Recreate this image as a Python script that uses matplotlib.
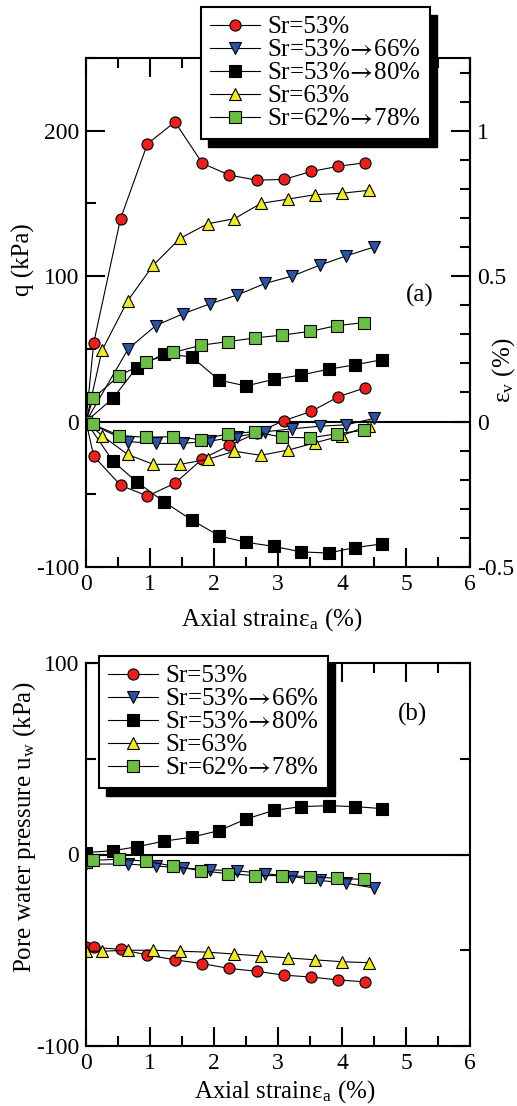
import numpy as np
import matplotlib.pyplot as plt
from matplotlib.patches import Rectangle
from matplotlib.transforms import IdentityTransform
from matplotlib.ticker import MultipleLocator

plt.rcParams['font.family'] = ['Liberation Serif', 'DejaVu Serif']
plt.rcParams['mathtext.fontset'] = 'stix'
plt.rcParams['axes.unicode_minus'] = False

# Datos: deformacion axial (%)
ea_53 = [0, 0.12, 0.54, 0.96, 1.39, 1.82, 2.24, 2.67, 3.09, 3.52, 3.94, 4.36]
ea_66 = [0, 0.66, 1.09, 1.51, 1.94, 2.36, 2.80, 3.22, 3.65, 4.07, 4.50]
ea_80 = [0, 0.42, 0.79, 1.22, 1.65, 2.08, 2.50, 2.93, 3.36, 3.79, 4.20, 4.62]
ea_63 = [0, 0.25, 0.65, 1.05, 1.47, 1.90, 2.32, 2.73, 3.16, 3.58, 4.00, 4.42]
ea_78 = [0, 0.11, 0.52, 0.94, 1.36, 1.80, 2.22, 2.64, 3.07, 3.50, 3.92, 4.34]

# Esfuerzo desviador q (kPa)
q_53 = [0, 54, 139.5, 191, 206, 177.5, 169.5, 166, 166.5, 172, 175.5, 178]
q_66 = [0, 50, 66, 74, 81, 87, 95, 100, 107.5, 114, 120]
q_80 = [0, 16, 37, 46.5, 44.5, 28.5, 24.5, 29, 32, 36, 39, 42.5]
q_63 = [0, 49, 83, 107.5, 126, 136, 139.5, 150, 153, 156, 157, 159]
q_78 = [0, 16, 31.5, 41, 47.5, 52.5, 55, 57.5, 59.5, 62, 66, 68]

# Deformacion volumetrica (%)
ev_53 = [0, -0.119, -0.219, -0.256, -0.212, -0.128, -0.082, -0.039, 0.003, 0.035, 0.085, 0.116]
ev_66 = [0, -0.069, -0.075, -0.075, -0.067, -0.052, -0.035, -0.025, -0.016, -0.011, 0.011]
ev_80 = [0, -0.136, -0.207, -0.276, -0.338, -0.393, -0.415, -0.429, -0.448, -0.452, -0.433, -0.421]
ev_63 = [0, -0.048, -0.113, -0.147, -0.147, -0.130, -0.102, -0.116, -0.098, -0.073, -0.048, -0.014]
ev_78 = [0, -0.010, -0.048, -0.054, -0.052, -0.062, -0.042, -0.035, -0.054, -0.056, -0.042, -0.030]

# Presion de poro uw (kPa)
uw_53 = [-48.5, -48.5, -49.5, -52.5, -55, -57, -59.5, -61, -63, -64, -65.5, -66.5]
uw_66 = [-5, -5, -6, -7, -8, -8.5, -10, -11.5, -13.5, -15, -17.5]
uw_80 = [1, 2, 4, 7, 9, 12.5, 18.5, 23, 25, 25.5, 25, 24]
uw_63 = [-50.5, -50.5, -50, -50, -50.5, -51, -52, -53, -54, -55, -56, -56.5]
uw_78 = [-4, -3, -2.5, -3.5, -6, -8.5, -10, -11, -11, -11.5, -12.5, -13]

arr = '$\\!\\rightarrow\\!$'
labels = ['Sr=53%', 'Sr=53%' + arr + '66%', 'Sr=53%' + arr + '80%', 'Sr=63%',
          'Sr=62%' + arr + '78%']
markers = ['o', 'v', 's', '^', 's']
colors = ['#e8201e', '#2b53a6', '#000000', '#f0ea2a', '#6cbd45']

W, H = 517, 1106
fig = plt.figure(figsize=(W/100, H/100), dpi=100)

def px_axes(x0, y0, x1, y1):
    return fig.add_axes([x0/W, 1-y1/H, (x1-x0)/W, (y1-y0)/H])

def style(ax):
    ax.tick_params(which='both', direction='in', top=True, width=1.5, labelsize=17)
    ax.tick_params(which='major', length=14)
    ax.tick_params(which='minor', length=7)
    ax.tick_params(axis='x', pad=5)
    ax.tick_params(axis='y', pad=5)
    for s in ax.spines.values():
        s.set_linewidth(1.5)
    ax.xaxis.set_major_locator(MultipleLocator(1))
    ax.xaxis.set_minor_locator(MultipleLocator(0.5))
    ax.set_xlim(0, 6)

kw = dict(lw=0.8, ms=8, mec='k', mew=0.8)
legkw = dict(loc='upper left', bbox_transform=fig.transFigure, borderaxespad=0, fontsize=18,
             handlelength=2.0, handletextpad=0.3, labelspacing=0.02, borderpad=0.35,
             fancybox=False, framealpha=1, edgecolor='k')

# ---------- (a) ----------
ax = px_axes(86, 58, 470, 567)
style(ax)
ax.set_ylim(-100, 250)
ax.set_yticks([-100, 0, 100, 200])
ax.yaxis.set_minor_locator(MultipleLocator(50))
ax.tick_params(axis='y', which='both', right=False)
ax.axhline(0, color='k', lw=1.5, zorder=1.5)

ea_list = [ea_53, ea_66, ea_80, ea_63, ea_78]
q_list = [q_53, q_66, q_80, q_63, q_78]
ev_list = [ev_53, ev_66, ev_80, ev_63, ev_78]
for xs, qs, evs, lab, m, c in zip(ea_list, q_list, ev_list, labels, markers, colors):
    ax.plot(xs, qs, '-', color='k', marker=m, mfc=c, label=lab, **kw)
    ax.plot(xs, np.array(evs)*200, '-', color='k', marker=m, mfc=c, **kw)

ax2 = ax.twinx()
ax2.set_ylim(-0.5, 1.25)
ax2.set_yticks([-0.5, 0, 0.5, 1])
ax2.set_yticklabels(['-0.5', '0', '0.5', '1'])
ax2.yaxis.set_minor_locator(MultipleLocator(0.1))
ax2.tick_params(which='both', direction='in', width=1.5, labelsize=17, pad=5)
ax2.tick_params(which='major', length=14)
ax2.tick_params(which='minor', length=7)
for k in ['top', 'bottom', 'left']:
    ax2.spines[k].set_visible(False)
ax2.spines['right'].set_linewidth(1.5)

ax.set_xlabel('Axial strain\u03b5$_\\mathregular{a}$ (%)', fontsize=18)
ax.xaxis.set_label_coords(0.484, -0.077)
ax.set_ylabel('q (kPa)', fontsize=18)
ax.yaxis.set_label_coords(-0.133, 0.603)
ax2.set_ylabel('\u03b5$_\\mathregular{v}$ (%)', fontsize=18)
ax2.yaxis.set_label_coords(1.052, 0.387)
ax.text(5.22, 87, '(a)', fontsize=18, ha='center', va='center')

leg1 = ax.legend(bbox_to_anchor=(201/W, 1-7/H), **legkw)
leg1.get_frame().set_linewidth(1.5)

# ---------- (b) ----------
bx = px_axes(86, 663, 470, 1046)
style(bx)
bx.set_ylim(-100, 100)
bx.set_yticks([-100, 0, 100])
bx.yaxis.set_minor_locator(MultipleLocator(50))
bx.tick_params(axis='y', which='both', right=True)
bx.axhline(0, color='k', lw=1.5, zorder=1.5)

uw_list = [uw_53, uw_66, uw_80, uw_63, uw_78]
for xs, us, lab, m, c in zip(ea_list, uw_list, labels, markers, colors):
    bx.plot(xs, us, '-', color='k', marker=m, mfc=c, label=lab, **kw)

bx.set_xlabel('Axial strain\u03b5$_\\mathregular{a}$ (%)', fontsize=18)
bx.xaxis.set_label_coords(0.518, -0.084)
bx.set_ylabel('Pore water pressure u$_\\mathregular{w}$ (kPa)', fontsize=18)
bx.yaxis.set_label_coords(-0.125, 0.572)
bx.text(5.1, 73, '(b)', fontsize=18, ha='center', va='center')

leg2 = bx.legend(bbox_to_anchor=(99/W, 1-656/H), **legkw)
leg2.get_frame().set_linewidth(1.5)

# sombra negra desplazada de las leyendas
fig.canvas.draw()
for a, leg in [(ax, leg1), (bx, leg2)]:
    bb = leg.get_frame().get_window_extent()
    sh = Rectangle((bb.x0 + 7, bb.y0 - 8), bb.width, bb.height, transform=IdentityTransform(),
                   facecolor='k', edgecolor='k', zorder=4.9, clip_on=False)
    a.add_artist(sh)

fig.savefig('out.png', dpi=100)
